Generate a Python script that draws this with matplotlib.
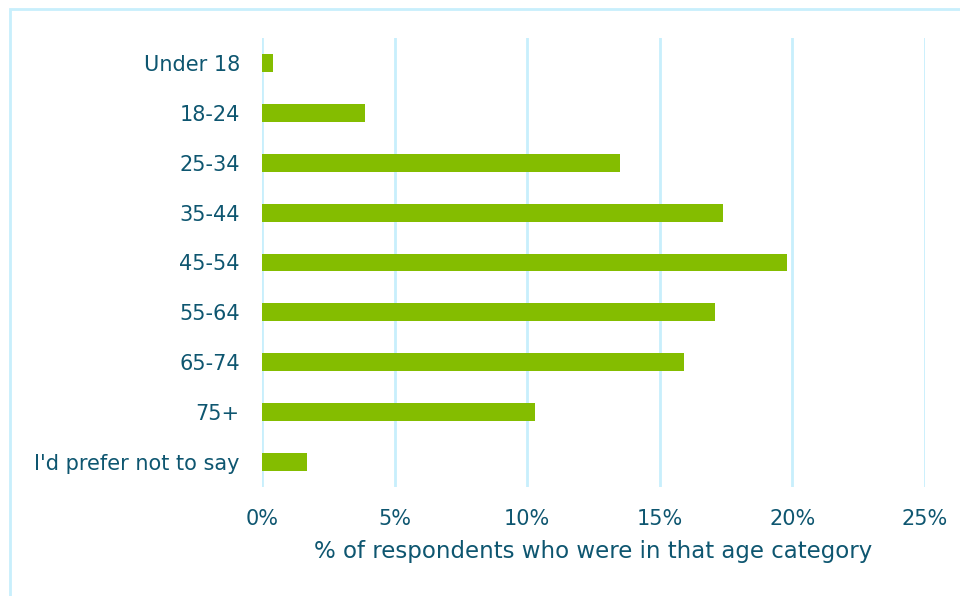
import matplotlib.pyplot as plt
from matplotlib.patches import Rectangle
from matplotlib.ticker import FuncFormatter

categorias = ["Under 18", "18-24", "25-34", "35-44", "45-54", "55-64", "65-74", "75+", "I'd prefer not to say"]
valores = [0.4, 3.9, 13.5, 17.4, 19.8, 17.1, 15.9, 10.3, 1.7]

color_barra = '#84bd00'
color_texto = '#0e5670'
color_rejilla = '#c8effc'

fig = plt.figure(figsize=(9.6, 5.96), dpi=100)
ax = fig.add_axes([262 / 960, 1 - 487 / 596, (925 - 262) / 960, (487 - 38) / 596])

pos = list(range(len(categorias)))
ax.barh(pos, valores, height=0.36, color=color_barra, zorder=3)
ax.set_yticks(pos)
ax.set_yticklabels(categorias)
ax.set_ylim(len(categorias) - 0.5, -0.5)
ax.set_xlim(0, 25)
ax.set_xticks([0, 5, 10, 15, 20, 25])
ax.xaxis.set_major_formatter(FuncFormatter(lambda v, p: f"{v:.0f}%"))

ax.grid(axis='x', color=color_rejilla, linewidth=2, zorder=0)
for s in ax.spines.values():
    s.set_visible(False)
ax.tick_params(axis='both', length=0, labelsize=15, colors=color_texto)
ax.tick_params(axis='y', pad=16)
ax.tick_params(axis='x', pad=16)
ax.set_xlabel("% of respondents who were in that age category", fontsize=16.5, color=color_texto, labelpad=8)

# marco del gráfico
fig.patches.append(Rectangle((10 / 960, -0.1), 1.2, 1 - 9 / 596 + 0.1, transform=fig.transFigure,
                             fill=False, edgecolor=color_rejilla, linewidth=2))

plt.savefig("out.png", dpi=100)
